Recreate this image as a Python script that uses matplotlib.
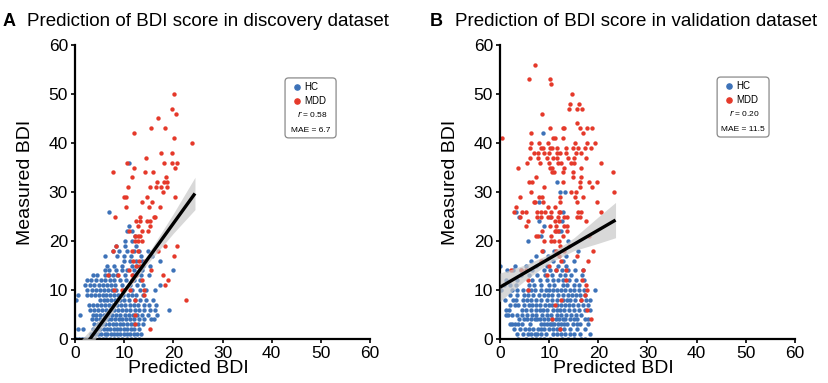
import matplotlib
matplotlib.use("Agg")
import matplotlib.pyplot as plt
from matplotlib.patches import FancyBboxPatch
import numpy as np

plt.rcParams['font.family'] = ['Liberation Sans', 'DejaVu Sans']

HC_COLOR = "#3d72b8"
MDD_COLOR = "#e5392a"

# ---------------- Panel A data (measured BDI row -> predicted BDI values) -------------
hc_a_rows = {
    0: [0.2, 0.8, 1.4, 2.0, 2.7, 3.4, 4.1, 4.9, 5.6, 6.4, 7.2, 8.0, 8.8, 9.6, 10.5, 11.3, 12.2, 13.0],
    1: [3.3, 4.0, 4.7, 5.3, 6.0, 6.6, 7.3, 7.9, 8.6, 9.2, 9.9, 10.5, 11.2, 11.9, 12.6, 13.4],
    2: [0.7, 1.7, 3.6, 4.4, 5.1, 5.8, 6.5, 7.2, 7.9, 8.5, 9.2, 9.9, 10.6, 11.3, 12.1, 13.0],
    3: [3.8, 4.6, 5.4, 6.2, 7.0, 7.7, 8.4, 9.1, 9.8, 10.5, 11.3, 12.0, 12.9, 13.8],
    4: [3.5, 4.2, 5.0, 5.9, 6.7, 7.4, 8.1, 8.9, 9.6, 10.4, 11.2, 12.0, 13.0, 14.1, 15.4, 16.0],
    5: [1.0, 3.6, 4.3, 5.1, 5.9, 6.8, 7.6, 8.4, 9.2, 10.1, 10.9, 11.7, 12.7, 13.6, 14.8, 16.6],
    6: [3.0, 3.8, 4.6, 5.4, 6.3, 7.1, 7.9, 8.7, 9.5, 10.4, 11.2, 12.2, 13.1, 14.0, 15.2, 16.2, 19.2],
    7: [2.8, 3.6, 4.4, 5.2, 6.0, 6.9, 7.7, 8.5, 9.4, 10.2, 11.1, 12.0, 12.9, 14.1, 15.0, 16.5],
    8: [0.3, 5.0, 5.8, 6.6, 7.4, 8.2, 9.1, 10.0, 11.0, 12.3, 13.2, 14.5, 15.8],
    9: [0.7, 2.4, 3.2, 4.0, 4.8, 5.6, 6.4, 7.2, 8.0, 8.8, 9.7, 10.7, 11.6, 12.5, 13.8],
    10: [2.4, 3.4, 4.2, 5.0, 5.8, 6.7, 7.5, 8.4, 10.0, 11.6, 13.2, 14.5, 16.2],
    11: [2.1, 3.0, 3.9, 4.8, 5.7, 6.5, 7.4, 8.2, 9.5, 11.2, 12.6, 13.9, 17.2],
    12: [2.4, 3.2, 4.2, 5.2, 6.2, 7.1, 8.0, 9.1, 10.4, 12.0, 13.3],
    13: [3.7, 4.5, 6.0, 6.9, 7.7, 8.5, 10.2, 11.8, 13.5, 15.1],
    14: [6.1, 7.0, 8.3, 9.6, 10.5, 11.9, 13.6, 20.0],
    15: [6.5, 8.0, 9.5, 11.5, 12.7, 13.8, 15.2],
    16: [9.9, 11.2, 12.4, 13.6, 17.3],
    17: [6.1, 8.6, 10.0, 11.3, 13.4, 15.6],
    18: [7.8, 9.0, 10.6, 11.9, 13.0, 14.9],
    19: [8.3, 10.2, 12.5],
    20: [10.2, 11.5],
    21: [12.3],
    22: [10.6, 11.6],
    23: [10.9],
    26: [7.0],
    36: [11.0],
}
mdd_a_rows = {
    50: [20.1], 47: [19.7], 46: [20.5], 45: [16.8], 43: [15.4, 18.4], 42: [11.9],
    41: [20.1], 40: [23.7], 38: [17.4, 19.7], 37: [14.4], 36: [10.6, 18.0, 19.8, 20.7],
    35: [12.1, 20.3], 34: [7.8, 14.2, 15.9], 33: [11.5, 18.5], 32: [16.7, 18.0, 18.8],
    31: [10.8, 15.3, 16.4, 17.4, 18.7], 30: [17.8], 29: [9.9, 10.3, 14.6, 20.3],
    28: [13.6, 15.7], 27: [10.4, 15.1, 17.3], 25: [8.1, 13.3, 16.0, 16.3],
    24: [12.4, 13.3, 14.7, 15.3], 23: [12.9, 15.2], 22: [10.9, 13.6, 14.9],
    21: [12.2, 12.8, 13.3], 20: [12.3, 12.8, 13.6], 19: [8.3, 18.4, 20.7],
    18: [7.8, 11.6, 12.8, 16.8], 17: [20.1], 16: [11.8, 13.1, 14.2], 15: [12.5, 13.3],
    14: [11.0, 15.4], 13: [6.8, 8.7, 11.5, 12.5, 17.8], 12: [11.5, 13.6, 18.9],
    11: [18.4], 10: [7.9, 9.6, 11.2, 14.0], 9: [14.0], 8: [12.3, 22.6],
    5: [12.3], 3: [12.3], 2: [15.3],
}
# fitted regression line and 95% CI
fit_a_x = [0.0, 5.0, 10.0, 15.0, 20.0, 24.4]
fit_a_intercept, fit_a_slope = -4.24, 1.391
fit_a_ci = [2.6, 1.3, 0.6, 1.0, 2.0, 3.3]
stats_a = ("0.58", "6.7")

# ---------------- Panel B data ----------------
hc_b_rows = {
    0: [3.6, 5.2, 6.5, 7.4, 8.1, 9.0, 10.2, 12.6, 13.9, 15.1, 16.5, 17.2],
    1: [3.4, 4.6, 5.6, 6.4, 7.1, 7.6, 8.3, 9.4, 10.8, 11.6, 12.4, 13.2, 14.2, 15.0, 16.3, 18.3],
    2: [2.8, 4.1, 5.0, 5.8, 6.7, 7.7, 8.4, 9.0, 9.9, 10.7, 11.5, 12.2, 13.1, 14.3, 15.6, 17.3],
    3: [2.0, 2.5, 3.0, 3.6, 4.5, 6.1, 8.3, 9.0, 9.6, 10.1, 10.5, 11.0, 11.8, 12.4, 13.0, 13.6, 14.8, 15.6, 16.3, 17.9],
    4: [3.8, 4.8, 5.4, 6.3, 7.1, 7.6, 8.2, 9.0, 9.8, 10.6, 11.3, 12.1, 12.8, 13.3, 14.2, 15.0, 15.7, 17.2, 17.8],
    5: [1.2, 1.7, 2.5, 3.5, 4.5, 5.5, 6.5, 7.3, 8.5, 9.5, 10.3, 11.6, 12.5, 13.4, 14.4, 15.5, 16.5],
    6: [1.3, 1.9, 4.4, 5.3, 6.3, 7.3, 8.1, 8.8, 9.6, 10.8, 11.6, 12.3, 13.1, 14.1, 15.1, 16.0, 17.3, 18.4],
    7: [2.0, 3.0, 3.6, 4.9, 5.9, 6.5, 7.3, 8.2, 9.1, 9.9, 10.6, 11.5, 12.5, 13.2, 14.0, 14.8, 15.8, 16.8, 17.8],
    8: [1.0, 2.7, 3.3, 4.7, 5.5, 6.3, 7.4, 8.4, 9.5, 10.5, 11.5, 12.8, 13.6, 14.3, 15.3, 16.4, 17.5, 18.3],
    9: [2.1, 3.4, 4.8, 5.6, 6.8, 8.0, 8.9, 9.7, 10.5, 11.7, 12.9, 13.8, 14.6, 15.4, 16.2, 17.2],
    10: [0.3, 2.5, 3.5, 4.6, 5.6, 6.4, 7.2, 8.4, 9.3, 10.0, 10.8, 11.6, 12.4, 13.2, 14.3, 15.0, 16.0, 17.1, 19.4],
    11: [0.8, 2.1, 3.3, 5.8, 7.0, 8.3, 9.9, 11.0, 12.8, 13.7, 15.0, 16.1],
    12: [1.3, 3.5, 6.6, 8.2, 9.5, 10.7, 11.8, 12.9, 14.0, 15.5, 17.1],
    13: [4.2, 6.0, 7.6, 9.2, 10.6, 12.3, 13.3, 14.5, 16.6],
    14: [1.5, 2.7, 4.3, 6.5, 9.0, 10.2, 11.3, 12.6, 13.8, 15.2, 16.8],
    15: [0.0, 3.1, 5.3, 7.4, 9.6, 11.7, 13.4],
    16: [6.3, 8.6, 10.7, 12.8, 15.0],
    17: [7.4, 9.7, 13.4],
    18: [8.8, 11.0, 15.9],
    20: [5.6, 13.8],
    21: [8.3],
    22: [11.9, 12.5],
    23: [8.9],
    24: [8.0, 12.6],
    25: [3.8, 10.1],
    26: [3.2, 12.8],
    28: [7.9],
    30: [12.2, 13.3],
    32: [11.6],
    42: [8.8],
}
mdd_b_rows = {
    56: [7.1], 53: [5.9, 10.1], 52: [10.4], 50: [14.6], 48: [14.2, 16.0],
    47: [14.0, 15.7, 16.6], 46: [8.6], 44: [15.7],
    43: [10.1, 12.8, 13.1, 16.2, 17.6, 18.7], 42: [6.4, 16.8], 41: [0.4, 10.8, 11.1, 12.8],
    40: [6.4, 7.9, 9.8, 15.2, 17.7, 19.4],
    39: [6.2, 8.4, 8.7, 10.1, 10.5, 11.6, 13.5, 14.8, 15.8, 17.3, 18.6],
    38: [7.0, 7.7, 9.0, 9.9, 11.6, 12.2, 13.5, 15.4, 16.4],
    37: [6.2, 7.8, 9.6, 10.7, 11.6, 13.9, 15.0, 17.5],
    36: [5.4, 8.2, 9.9, 11.8, 12.4, 14.5, 15.0, 20.6],
    35: [3.6, 10.1, 10.6, 13.0, 16.5], 34: [10.5, 10.9, 12.8, 14.8, 23.0],
    33: [7.4, 14.8, 16.4], 32: [5.8, 6.5, 12.8, 16.3, 18.2, 19.8],
    31: [8.9, 16.2, 18.8], 30: [6.3, 14.5, 15.4, 23.2],
    29: [4.1, 7.9, 8.5, 12.2, 15.3, 16.9], 28: [6.9, 7.2, 8.8, 12.3, 15.6, 19.8],
    27: [3.3, 9.7, 11.1],
    26: [2.9, 4.4, 5.2, 7.6, 8.4, 9.1, 10.4, 12.1, 12.3, 15.9, 16.4, 20.5],
    25: [4.1, 7.6, 8.4, 9.7, 10.4, 11.8, 13.0, 13.6, 15.6, 16.2],
    24: [5.7, 11.1, 12.1, 17.4], 23: [5.3, 10.1, 11.4, 13.1, 13.6],
    22: [8.6, 11.1, 11.3, 11.8, 13.6], 21: [7.3, 7.7, 10.4, 12.8, 18.2],
    20: [9.0, 10.4, 11.0, 12.1], 19: [12.3, 14.1], 18: [8.6, 11.3, 13.1, 18.9],
    17: [12.0, 15.6], 16: [8.4, 12.4, 17.9], 15: [10.0],
    14: [2.3, 4.2, 5.3, 11.4, 13.4, 16.9], 13: [9.6], 12: [5.6, 13.5, 16.7],
    11: [17.4], 10: [5.6, 17.7], 9: [17.2], 8: [12.4, 16.5], 7: [11.1],
    6: [17.6], 4: [10.5, 18.5], 2: [12.3],
}
fit_b_x = [0.0, 5.0, 10.0, 15.0, 20.0, 23.5]
fit_b_intercept, fit_b_slope = 10.57, 0.583
fit_b_ci = [2.9, 1.6, 0.9, 1.3, 2.7, 3.6]
stats_b = ("0.20", "11.5")

titles = ["Prediction of BDI score in discovery dataset",
          "Prediction of BDI score in validation dataset"]
panel_letters = ["A", "B"]
ticks = [0, 10, 20, 30, 40, 50, 60]


def flatten(rows):
    xs, ys = [], []
    for yv, xl in rows.items():
        for xv in xl:
            xs.append(xv)
            ys.append(yv)
    return xs, ys


W, H = 829, 383
fig = plt.figure(figsize=(W / 100, H / 100), dpi=100)


def px_axes(left, right, top, bottom):
    return fig.add_axes([left / W, 1 - bottom / H, (right - left) / W, (bottom - top) / H])


axA = px_axes(75, 370, 45, 339)
axB = px_axes(500, 795, 45, 339)

panels = [
    (axA, hc_a_rows, mdd_a_rows, fit_a_x, fit_a_intercept, fit_a_slope, fit_a_ci, stats_a,
     (0.712, 0.885, 0.684, 0.888)),
    (axB, hc_b_rows, mdd_b_rows, fit_b_x, fit_b_intercept, fit_b_slope, fit_b_ci, stats_b,
     (0.736, 0.912, 0.687, 0.891)),
]

for ax, hc_rows, mdd_rows, fx, b0, b1, ci, stats, box in panels:
    hx, hy = flatten(hc_rows)
    mx, my = flatten(mdd_rows)
    ax.scatter(hx, hy, s=10, color=HC_COLOR, linewidths=0, zorder=2)
    ax.scatter(mx, my, s=10, color=MDD_COLOR, linewidths=0, zorder=2)
    fx = np.array(fx)
    fy = b0 + b1 * fx
    ci = np.array(ci)
    ax.fill_between(fx, fy - ci, fy + ci, color="#c8c8c8", alpha=0.7, linewidth=0, zorder=3)
    ax.plot(fx, fy, color="black", lw=2.4, zorder=4, solid_capstyle="butt")
    ax.set_xlim(0, 60)
    ax.set_ylim(0, 60)
    ax.set_xticks(ticks)
    ax.set_yticks(ticks)
    ax.tick_params(labelsize=12.5, length=3, width=1.2, pad=2)
    for s in ["top", "right"]:
        ax.spines[s].set_visible(False)
    for s in ["left", "bottom"]:
        ax.spines[s].set_linewidth(1.6)
    ax.set_xlabel("Predicted BDI", fontsize=14)
    ax.xaxis.set_label_coords(0.386, -0.072)
    ax.set_ylabel("Measured BDI", fontsize=14)
    ax.yaxis.set_label_coords(-0.14, 0.534)

    # legend-like box
    x0, x1, y0, y1 = box
    patch = FancyBboxPatch((x0, y0), x1 - x0, y1 - y0,
                           boxstyle="round,pad=0,rounding_size=0.012",
                           transform=ax.transAxes, facecolor="white",
                           edgecolor="#8a8a8a", lw=0.9, zorder=5)
    ax.add_patch(patch)
    cx = x0 + 0.04
    ax.scatter([cx], [y1 - 0.03], s=14, color=HC_COLOR, transform=ax.transAxes, zorder=6, clip_on=False)
    ax.scatter([cx], [y1 - 0.078], s=14, color=MDD_COLOR, transform=ax.transAxes, zorder=6, clip_on=False)
    ax.text(cx + 0.025, y1 - 0.03, "HC", transform=ax.transAxes, fontsize=7, va="center", zorder=6)
    ax.text(cx + 0.025, y1 - 0.078, "MDD", transform=ax.transAxes, fontsize=7, va="center", zorder=6)
    mid = (x0 + x1) / 2
    ax.text(mid + 0.005, y1 - 0.122, "$r$ = " + stats[0], transform=ax.transAxes, fontsize=6,
            va="center", ha="center", zorder=6)
    ax.text(mid, y1 - 0.178, "MAE = " + stats[1], transform=ax.transAxes, fontsize=6,
            va="center", ha="center", zorder=6)

fig.text(3 / W, 1 - 26 / H, panel_letters[0], fontsize=13, fontweight="bold", va="baseline")
fig.text(27 / W, 1 - 26 / H, titles[0], fontsize=13.5, va="baseline")
fig.text(430 / W, 1 - 26 / H, panel_letters[1], fontsize=13, fontweight="bold", va="baseline")
fig.text(455 / W, 1 - 26 / H, titles[1], fontsize=13.5, va="baseline")

fig.savefig("out.png", dpi=100)
